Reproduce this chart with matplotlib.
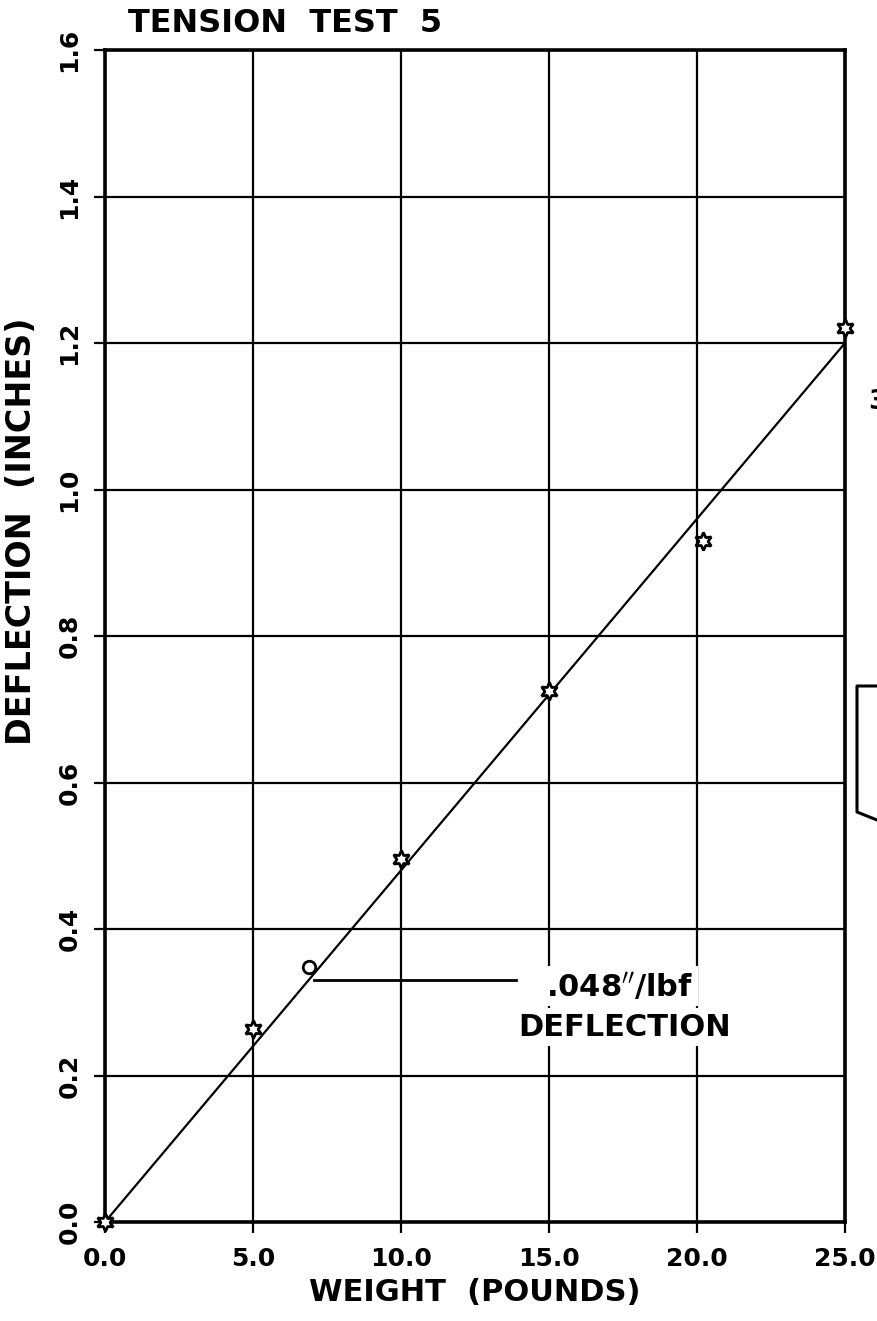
import matplotlib
matplotlib.use('Agg')
import matplotlib.pyplot as plt
from matplotlib.lines import Line2D
import numpy as np

# load test readings
weight = [0.0, 5.0, 10.0, 15.0, 20.2, 25.0]
deflection = [0.0, 0.263, 0.495, 0.725, 0.93, 1.22]
slope = 0.048  # in/lbf
fit_x = [0.0, 25.0]

xticks = [0.0, 5.0, 10.0, 15.0, 20.0, 25.0]
yticks = [0.0, 0.2, 0.4, 0.6, 0.8, 1.0, 1.2, 1.4, 1.6]

title = 'TENSION  TEST  5'
xlabel = 'WEIGHT  (POUNDS)'
ylabel = 'DEFLECTION  (INCHES)'

plt.rcParams['font.family'] = ['DejaVu Sans']
plt.rcParams['font.weight'] = 'bold'

fig = plt.figure(figsize=(8.77, 13.21), dpi=100)
ax = fig.add_axes([105/877, 1 - 1222/1321, 740/877, 1172/1321])

ax.set_xlim(0, 25)
ax.set_ylim(0, 1.6)
ax.set_xticks(xticks)
ax.set_yticks(yticks)
ax.set_xticklabels(['%.1f' % v for v in xticks], fontsize=18, fontweight='bold')
ax.set_yticklabels(['%.1f' % v for v in yticks], fontsize=18, fontweight='bold',
                   rotation=90, va='center')
ax.tick_params(direction='out', length=8, width=1.6, color='black')
ax.tick_params(axis='x', pad=10)
ax.tick_params(axis='y', pad=9)
ax.grid(True, color='black', linewidth=1.6)
ax.set_axisbelow(True)
for s in ax.spines.values():
    s.set_linewidth(2.6)

# fitted line + measured points
ax.plot(fit_x, [slope*v for v in fit_x], color='black', lw=1.6, zorder=3)
ax.plot(weight, deflection, linestyle='none', marker=(6, 1, 0), ms=13,
        mfc='white', mec='black', mew=2.0, zorder=4, clip_on=False)

# slope callout
ax.plot([6.9], [0.348], marker='o', ms=9, mfc='white', mec='black', mew=2.0, zorder=4)
ax.plot([7.05, 13.9], [0.330, 0.330], color='black', lw=2.0, zorder=4)
ax.text(17.4, 0.322, '.048$^{\\prime\\prime}$/lbf', fontsize=22, fontweight='bold',
        ha='center', va='center', zorder=5,
        bbox=dict(facecolor='white', edgecolor='none', pad=3))
ax.text(17.55, 0.266, 'DEFLECTION', fontsize=22, fontweight='bold',
        ha='center', va='center', zorder=5,
        bbox=dict(facecolor='white', edgecolor='none', pad=3))

ax.set_xlabel(xlabel, fontsize=22, fontweight='bold', labelpad=5)
ax.set_ylabel(ylabel, fontsize=24, fontweight='bold')
ax.yaxis.set_label_coords(-0.09, 0.589)

fig.text(128/877, 1 - 24/1321, title, fontsize=23, fontweight='bold',
         ha='left', va='center')

# bits of the neighbouring figure at the right edge
fig.add_artist(Line2D([877/877, 857/877, 857/877, 877/877],
                      [1 - 686/1321, 1 - 686/1321, 1 - 812/1321, 1 - 820/1321],
                      color='black', lw=2.2))
fig.text(868/877, 1 - 402/1321, '3', fontsize=19, fontweight='bold',
         ha='left', va='center')

plt.savefig('out.png', dpi=100)
